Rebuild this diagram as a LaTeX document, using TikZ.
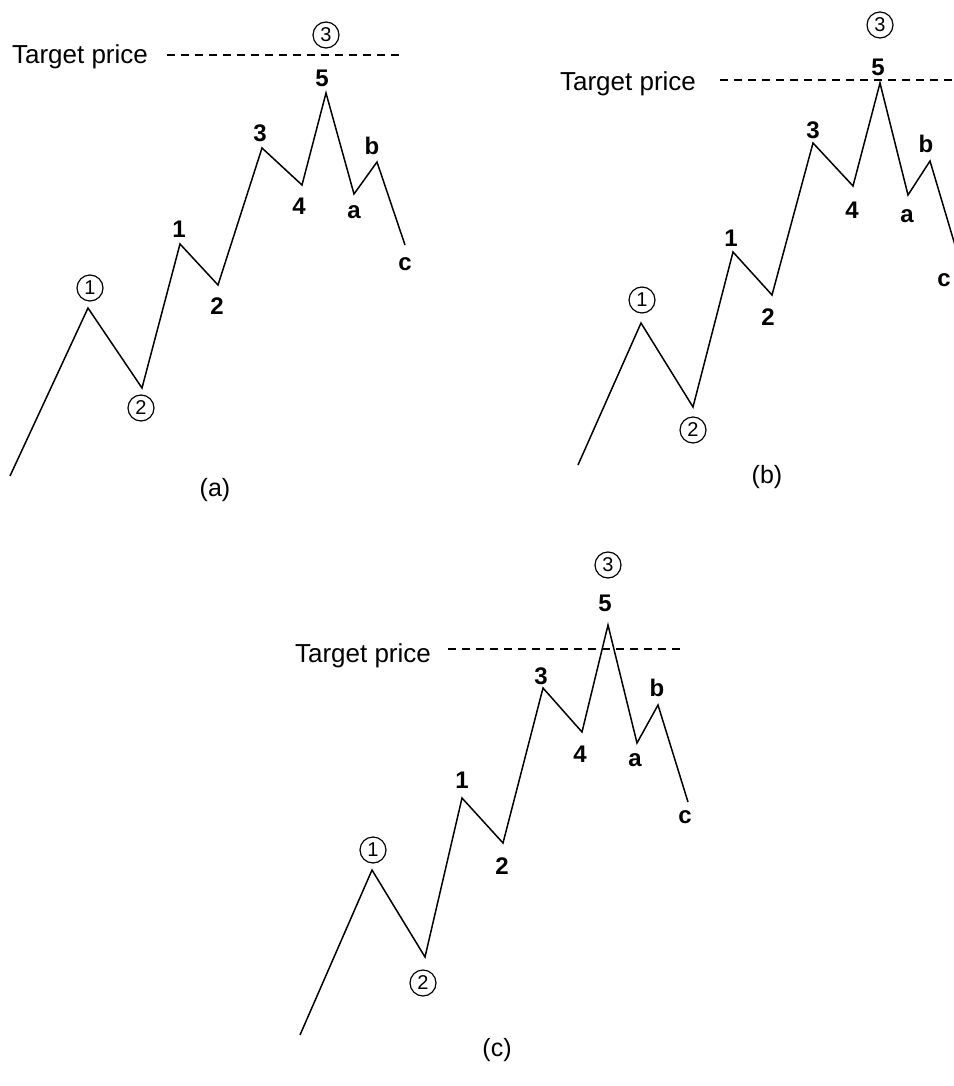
\documentclass[tikz,border=0pt]{standalone}
\usepackage{fontspec}
\setmainfont{Liberation Sans}
\usetikzlibrary{positioning}
\tikzset{
  wave/.style={line width=1.5pt,draw=black,line join=miter},
  target/.style={line width=1.2pt,dash pattern=on 8pt off 6pt},
  tplabel/.style={font=\fontsize{26}{28}\selectfont,inner sep=0pt},
  ptlabel/.style={font=\fontsize{24}{26}\selectfont\bfseries,inner sep=0pt},
  ringlabel/.style={circle,draw,line width=1.2pt,minimum size=26pt,
    inner sep=0pt,font=\fontsize{20}{22}\selectfont},
  caption/.style={font=\fontsize{25}{27}\selectfont,inner sep=0pt},
}
\begin{document}
\begin{tikzpicture}[x=1pt,y=-1pt]
  \useasboundingbox (0,0) rectangle (953,1086);
  % (a)
  \coordinate (aS) at (10,476);
  \coordinate (aW1) at (88,308);
  \coordinate (aW2) at (142,388);
  \coordinate (a1) at (180,244);
  \coordinate (a2) at (218,285);
  \coordinate (a3) at (262,148);
  \coordinate (a4) at (302,185);
  \coordinate (a5) at (326,93);
  \coordinate (aa) at (354,194);
  \coordinate (ab) at (377,162);
  \coordinate (ac) at (405,245);
  \draw[wave] (aS) -- (aW1) -- (aW2) -- (a1) -- (a2) -- (a3) -- (a4)
    -- (a5) -- (aa) -- (ab) -- (ac);
  \node[tplabel] (tpA) at (80,57) {Target price};
  \coordinate (tpAend) at (400,55);
  \draw[target] (167,55) -- (tpAend);
  \node[ringlabel] (aR1) at (90,288) {1};
  \node[ringlabel] (aR2) at (141,408) {2};
  \node[ringlabel] (aR3) at (326,35) {3};
  \node[ptlabel] (aL1) at (179,229) {1};
  \node[ptlabel] (aL2) at (217,306) {2};
  \node[ptlabel] (aL3) at (260,133) {3};
  \node[ptlabel] (aL4) at (299,206) {4};
  \node[ptlabel] (aL5) at (322,78) {5};
  \node[ptlabel] (aLa) at (354,212) {a};
  \node[ptlabel] (aLb) at (372,146) {b};
  \node[ptlabel] (aLc) at (405,264) {c};
  \node[caption] (capA) at (215,490) {(a)};
  % (b)
  \coordinate (bS) at (578,465);
  \coordinate (bW1) at (641,323);
  \coordinate (bW2) at (693,407);
  \coordinate (b1) at (733,252);
  \coordinate (b2) at (772,295);
  \coordinate (b3) at (813,143);
  \coordinate (b4) at (853,186);
  \coordinate (b5) at (880,83);
  \coordinate (ba) at (908,195);
  \coordinate (bb) at (930,161);
  \coordinate (bc) at (960,262);
  \draw[wave] (bS) -- (bW1) -- (bW2) -- (b1) -- (b2) -- (b3) -- (b4)
    -- (b5) -- (ba) -- (bb) -- (bc);
  \node[tplabel] (tpB) at (628,84) {Target price};
  \coordinate (tpBend) at (960,80);
  \draw[target] (720,80) -- (tpBend);
  \node[ringlabel] (bR1) at (642,300) {1};
  \node[ringlabel] (bR2) at (693,430) {2};
  \node[ringlabel] (bR3) at (880,25) {3};
  \node[ptlabel] (bL1) at (731,238) {1};
  \node[ptlabel] (bL2) at (768,317) {2};
  \node[ptlabel] (bL3) at (813,130) {3};
  \node[ptlabel] (bL4) at (852,210) {4};
  \node[ptlabel] (bL5) at (878,67) {5};
  \node[ptlabel] (bLa) at (907,216) {a};
  \node[ptlabel] (bLb) at (926,144) {b};
  \node[ptlabel] (bLc) at (944,280) {c};
  \node[caption] (capB) at (767,477) {(b)};
  % (c)
  \coordinate (cS) at (300,1035);
  \coordinate (cW1) at (372,870);
  \coordinate (cW2) at (425,957);
  \coordinate (c1) at (462,798);
  \coordinate (c2) at (503,843);
  \coordinate (c3) at (543,688);
  \coordinate (c4) at (582,732);
  \coordinate (c5) at (608,625);
  \coordinate (ca) at (637,743);
  \coordinate (cb) at (658,705);
  \coordinate (cc) at (688,802);
  \draw[wave] (cS) -- (cW1) -- (cW2) -- (c1) -- (c2) -- (c3) -- (c4)
    -- (c5) -- (ca) -- (cb) -- (cc);
  \node[tplabel] (tpC) at (363,656) {Target price};
  \coordinate (tpCend) at (682,649);
  \draw[target] (448,649) -- (tpCend);
  \node[ringlabel] (cR1) at (373,850) {1};
  \node[ringlabel] (cR2) at (423,983) {2};
  \node[ringlabel] (cR3) at (608,565) {3};
  \node[ptlabel] (cL1) at (462,780) {1};
  \node[ptlabel] (cL2) at (502,866) {2};
  \node[ptlabel] (cL3) at (541,676) {3};
  \node[ptlabel] (cL4) at (580,754) {4};
  \node[ptlabel] (cL5) at (605,603) {5};
  \node[ptlabel] (cLa) at (635,760) {a};
  \node[ptlabel] (cLb) at (657,688) {b};
  \node[ptlabel] (cLc) at (685,817) {c};
  \node[caption] (capC) at (497,1050) {(c)};
\end{tikzpicture}
\end{document}
